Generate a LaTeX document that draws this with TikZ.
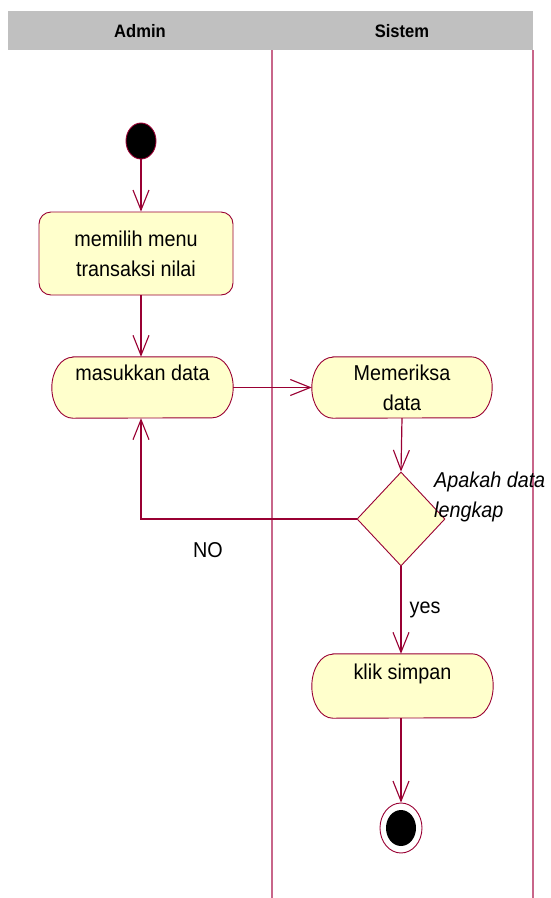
\documentclass[tikz,border=0pt]{standalone}
\usepackage{fontspec}
\setmainfont{Liberation Sans}[FakeStretch=0.92]
\usetikzlibrary{arrows.meta,shapes.geometric,calc}
\definecolor{rose}{HTML}{990033}
\definecolor{lane}{HTML}{C8668A}
\definecolor{actfill}{HTML}{FFFFCC}
\definecolor{head}{HTML}{C0C0C0}
\tikzset{
  x=1pt,y=1pt,
  txt/.style={font=\fontsize{21.5}{30}\selectfont, text=black},
  actbox/.style={txt, draw=rose, fill=actfill, rounded corners=12pt, line width=0.9pt, align=center, inner sep=0pt},
  actanchor/.style={txt, draw=none, align=center, inner sep=0pt},
  flow/.style={draw=rose, line width=1.2pt, -{Straight Barb[length=20pt,width=16pt,line width=1.1pt]}},
  startdot/.style={ellipse, draw=rose, fill=black, line width=0.9pt, minimum width=30pt, minimum height=36pt, inner sep=0pt},
  decision/.style={diamond, draw=rose, fill=actfill, line width=0.9pt, minimum width=88pt, minimum height=94pt, inner sep=0pt},
  lanelabel/.style={font=\fontsize{18}{20}\selectfont\bfseries, text=black},
  laneline/.style={draw=lane, line width=1.2pt}
}
% #1 node name, #2 half height
\newcommand{\stadium}[2]{%
  \draw[draw=rose, fill=actfill, line width=0.9pt]
    ([xshift=21pt]#1.north west) -- ([xshift=-21pt]#1.north east)
    arc[start angle=90, end angle=-90, x radius=21pt, y radius=#2pt]
    -- ([xshift=21pt]#1.south west)
    arc[start angle=270, end angle=90, x radius=21pt, y radius=#2pt]
    -- cycle;}
\begin{document}
\begin{tikzpicture}
\useasboundingbox (0,0) rectangle (550,-898);
% header
\fill[head] (8,-11) rectangle (533,-50);
\node[lanelabel] (hadmin) at (140,-31) {Admin};
\node[lanelabel] (hsistem) at (402,-31) {Sistem};
% lane lines
\coordinate (l1t) at (272,-50);
\coordinate (l1b) at (272,-898);
\coordinate (l2t) at (533,-50);
\coordinate (l2b) at (533,-898);
\draw[laneline] (l1t) -- (l1b);
\draw[laneline] (l2t) -- (l2b);
% nodes
\node[startdot] (start) at (141,-141) {};
\node[actbox, minimum width=194pt, minimum height=83pt] (memilih) at (136,-253.5) {memilih menu\\transaksi nilai};
% stadium activities
\node[actanchor, minimum width=181pt, minimum height=61pt] (masuk) at (142.5,-387.5) {};
\stadium{masuk}{30.5}
\node[actanchor] (masukt) at (142.5,-387.5) {masukkan data\\\phantom{x}};
\node[actanchor, minimum width=180pt, minimum height=61pt] (periksa) at (402,-387.5) {};
\stadium{periksa}{30.5}
\node[actanchor] (periksat) at (402,-387.5) {Memeriksa\\data};
\node[decision] (dec) at (401,-519) {};
\node[actanchor, minimum width=181pt, minimum height=64pt] (klik) at (402.5,-686) {};
\stadium{klik}{32}
\node[actanchor] (klikt) at (402.5,-687) {klik simpan\\\phantom{x}};
\node[ellipse, draw=rose, fill=white, line width=0.9pt, minimum width=42pt, minimum height=50pt, inner sep=0pt] (endo) at (401,-828) {};
\node[ellipse, fill=black, minimum width=30pt, minimum height=36pt, inner sep=0pt] (endi) at (endo.center) {};
% labels
\node[txt, font=\fontsize{21.5}{30}\selectfont\itshape, align=left, anchor=west, inner sep=0pt] (q) at (434,-497) {Apakah data\\lengkap};
\node[txt, inner sep=0pt] (no) at (208,-550) {NO};
\node[txt, inner sep=0pt] (yes) at (425,-610) {yes};
% flows
\draw[flow] (start.south) -- (memilih.north -| start.south);
\draw[flow] (memilih.south -| start.south) -- (masuk.north -| start.south);
\draw[flow] (masuk.east) -- (periksa.west);
\draw[flow] (periksa.south) -- (dec.north);
\draw[flow] (dec.west) -| (masuk.south -| start.south);
\draw[flow] (dec.south) -- (klik.north -| dec.south);
\draw[flow] (klik.south -| dec.south) -- (endo.north);
\end{tikzpicture}
\end{document}
